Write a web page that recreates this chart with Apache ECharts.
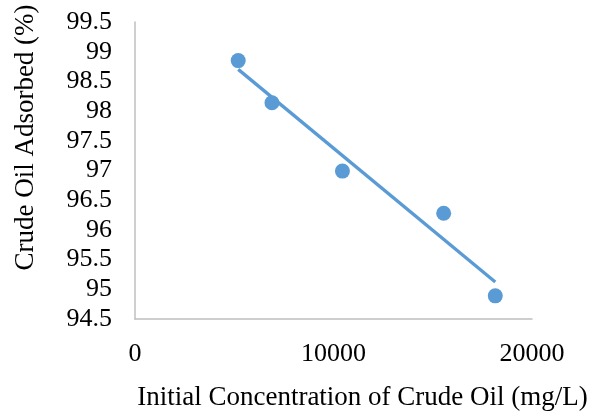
<!DOCTYPE html>
<html>
<head>
<meta charset="utf-8">
<script src="https://cdn.jsdelivr.net/npm/echarts@6/dist/echarts.min.js"></script>
<style>
  html, body { margin: 0; padding: 0; background: #fff; }
  #chart { width: 594px; height: 416px; }
</style>
</head>
<body>
<div id="chart"></div>
<script>
// Initial crude oil concentration (mg/L)
const concentration = [5200, 6900, 10450, 15550, 18150];
// Percentage of crude oil adsorbed
const adsorbed = [98.85, 98.14, 96.99, 96.28, 94.89];

const xTitle = 'Initial Concentration of Crude Oil (mg/L)';
const yTitle = 'Crude Oil Adsorbed (%)';

// Least-squares linear trendline over the measured points
function linearFit(xs, ys) {
  const n = xs.length;
  const mx = xs.reduce((a, b) => a + b, 0) / n;
  const my = ys.reduce((a, b) => a + b, 0) / n;
  let sxy = 0, sxx = 0;
  for (let i = 0; i < n; i++) {
    sxy += (xs[i] - mx) * (ys[i] - my);
    sxx += (xs[i] - mx) * (xs[i] - mx);
  }
  const slope = sxy / sxx;
  return x => my + slope * (x - mx);
}
const fit = linearFit(concentration, adsorbed);
const xMin = Math.min(...concentration);
const xMax = Math.max(...concentration);
const trend = [[xMin, fit(xMin)], [xMax, fit(xMax)]];

const points = concentration.map((x, i) => [x, adsorbed[i]]);

const FONT = "'Liberation Serif', 'Times New Roman', serif";
const BLUE = '#5b9bd5';
const AXIS = '#bfbfbf';

const chart = echarts.init(document.getElementById('chart'), null, { renderer: 'canvas' });
chart.setOption({
  animation: false,
  backgroundColor: '#ffffff',
  grid: { left: 135, right: 62, top: 22, bottom: 94, containLabel: false },
  xAxis: {
    type: 'value',
    min: 0,
    max: 20000,
    interval: 10000,
    name: xTitle,
    nameLocation: 'middle',
    nameGap: 65,
    nameTextStyle: { fontFamily: FONT, fontSize: 27, color: '#000', padding: [0, 0, 0, 58] },
    axisLine: { show: true, lineStyle: { color: AXIS, width: 1.5 } },
    axisTick: { show: false },
    splitLine: { show: false },
    axisLabel: {
      fontFamily: FONT, fontSize: 26, color: '#000', margin: 22,
      formatter: v => String(v)
    }
  },
  yAxis: {
    type: 'value',
    min: 94.5,
    max: 99.5,
    interval: 0.5,
    name: yTitle,
    nameLocation: 'middle',
    nameRotate: 90,
    nameGap: 96,
    nameTextStyle: { fontFamily: FONT, fontSize: 27, color: '#000', padding: [0, 0, 0, 66] },
    axisLine: { show: true, lineStyle: { color: AXIS, width: 1.5 } },
    axisTick: { show: false },
    splitLine: { show: false },
    axisLabel: { fontFamily: FONT, fontSize: 26, color: '#000', margin: 23 }
  },
  series: [
    {
      name: 'Adsorbed',
      type: 'scatter',
      data: points,
      symbol: 'circle',
      symbolSize: 15,
      itemStyle: { color: BLUE, opacity: 1 },
      z: 2
    },
    {
      name: 'Linear trend',
      type: 'line',
      data: trend,
      showSymbol: false,
      symbol: 'none',
      lineStyle: { color: BLUE, width: 3.3, cap: 'butt' },
      z: 3
    }
  ]
});
</script>
</body>
</html>
